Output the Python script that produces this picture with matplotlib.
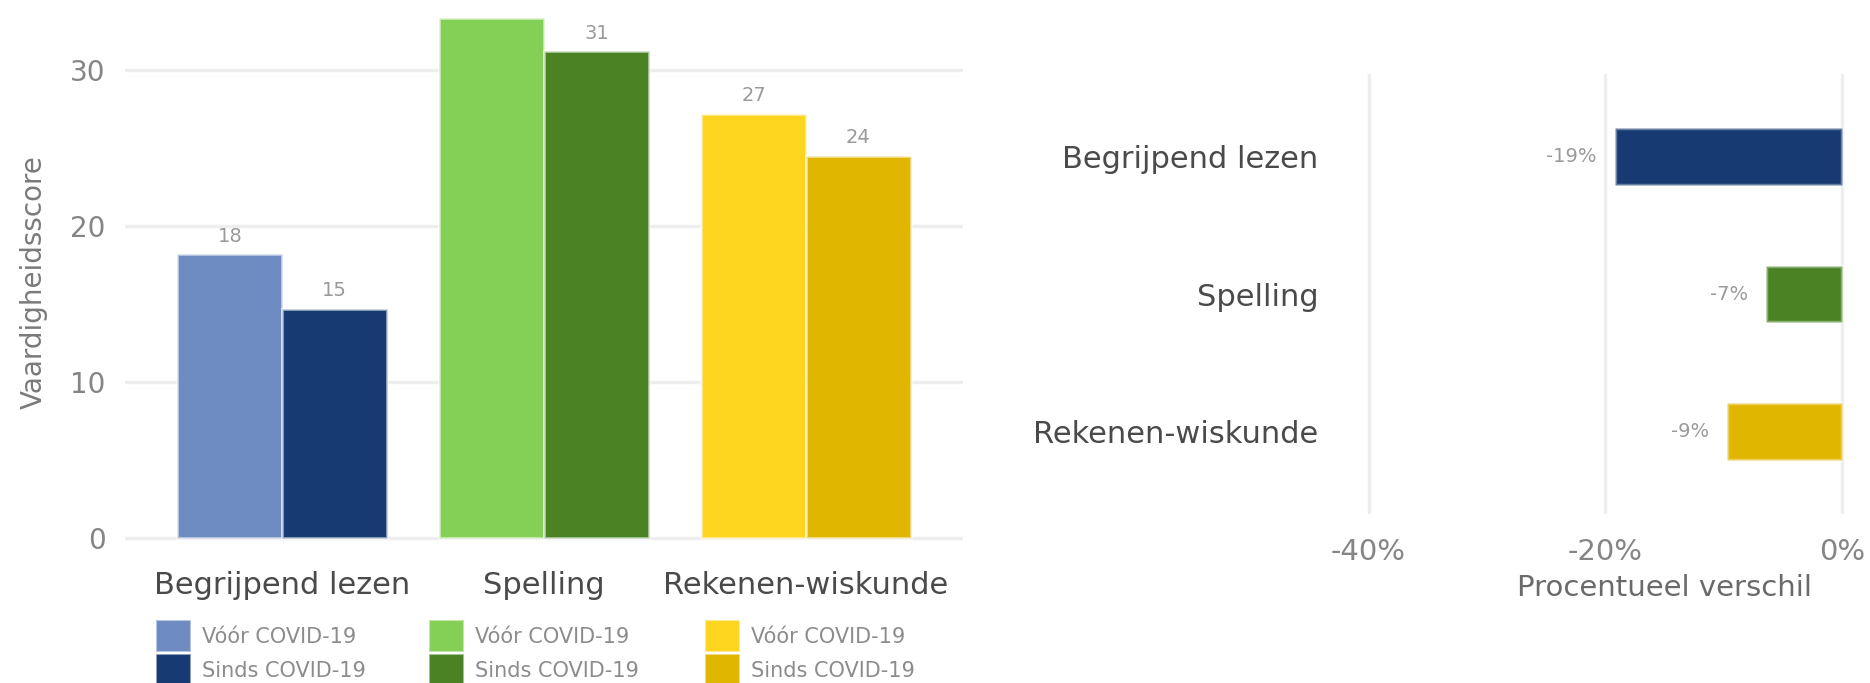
import matplotlib
matplotlib.use("Agg")
import matplotlib.pyplot as plt
from matplotlib.patches import Patch
import numpy as np

plt.rcParams['font.family'] = ['DejaVu Sans']

# ---- data ----
subjects = ["Begrijpend lezen", "Spelling", "Rekenen-wiskunde"]
periods = ["Vóór COVID-19", "Sinds COVID-19"]
score_before = [18.2, 33.3, 27.2]
score_since = [14.7, 31.2, 24.5]
# the label above the tallest bar lies outside the visible picture in the reference
label_before = ["18", "", "27"]
label_since = ["15", "31", "24"]
pct_diff = [-19.2, -6.4, -9.7]
pct_labels = ["-19%", "-7%", "-9%"]
score_ticks = [0, 10, 20, 30]
pct_ticks = [-40, -20, 0]
pct_ticklabels = ["-40%", "-20%", "0%"]

colors_before = ["#6e8cc2", "#84cf56", "#fdd51f"]
colors_since = ["#173a72", "#4a8224", "#e0b600"]

W, H = 1870, 683
fig = plt.figure(figsize=(W / 100, H / 100), dpi=100)

def fx(px):
    return px / W

def fy(py):
    return 1 - py / H

grid_col = "#eeeeee"
tick_col = "#858585"
lab_col = "#4a4a4a"
val_col = "#9a9a9a"

# ---- left panel ----
axL = fig.add_axes([fx(125), fy(565), fx(838), 565 / H])
x = np.arange(1, len(subjects) + 1)
bw = 0.4
for i in range(len(subjects)):
    axL.bar(x[i] - bw / 2, score_before[i], width=bw, color=colors_before[i],
            edgecolor=(1, 1, 1, 0.55), linewidth=2, zorder=2)
    axL.bar(x[i] + bw / 2, score_since[i], width=bw, color=colors_since[i],
            edgecolor=(1, 1, 1, 0.55), linewidth=2, zorder=2)
    axL.annotate(label_before[i], (x[i] - bw / 2, score_before[i]), xytext=(0, 6),
                 textcoords="offset points", ha="center", va="bottom",
                 fontsize=14, color=val_col, annotation_clip=False)
    axL.annotate(label_since[i], (x[i] + bw / 2, score_since[i]), xytext=(0, 6),
                 textcoords="offset points", ha="center", va="bottom",
                 fontsize=14, color=val_col, annotation_clip=False)

axL.set_xlim(0.4, 3.6)
axL.set_ylim(-1.7, 34.47)
axL.set_yticks(score_ticks)
axL.set_yticklabels([str(t) for t in score_ticks], fontsize=20, color=tick_col)
axL.set_xticks(x)
axL.set_xticklabels(subjects, fontsize=22, color=lab_col)
axL.tick_params(axis="both", length=0)
axL.tick_params(axis="y", pad=14)
axL.tick_params(axis="x", pad=4)
axL.grid(axis="y", color=grid_col, linewidth=2.5, zorder=0)
axL.set_axisbelow(True)
for s in axL.spines.values():
    s.set_visible(False)
axL.set_ylabel("Vaardigheidsscore", fontsize=20, color="#7a7a7a")
axL.yaxis.set_label_coords((48 - 125) / 838, 0.5)

# legend: three columns
col_x = [156, 429, 705]
for i in range(len(subjects)):
    handles = [Patch(facecolor=colors_before[i], edgecolor=(1, 1, 1, 0.5), linewidth=1.5),
               Patch(facecolor=colors_since[i], edgecolor=(1, 1, 1, 0.5), linewidth=1.5)]
    fig.legend(handles, periods, loc="upper left",
               bbox_to_anchor=(fx(col_x[i]), fy(620)), frameon=False,
               fontsize=15, labelcolor="#8c8c8c", handlelength=1.7, handleheight=2.0,
               handletextpad=0.5, labelspacing=0.08, borderpad=0, borderaxespad=0)

# ---- right panel ----
axR = fig.add_axes([fx(1339), fy(514), fx(651), 440 / H])
y = np.arange(1, len(subjects) + 1)
for i in range(len(subjects)):
    axR.barh(y[i], pct_diff[i], height=0.41, color=colors_since[i],
             edgecolor=(1, 1, 1, 0.35), linewidth=2.5, zorder=2)
    axR.annotate(pct_labels[i], (pct_diff[i], y[i]), xytext=(-13, 0),
                 textcoords="offset points", ha="right", va="center",
                 fontsize=14, color=val_col)
axR.set_ylim(3.6, 0.4)
axR.set_xlim(-42.5, 12.5)
axR.set_xticks(pct_ticks)
axR.set_xticklabels(pct_ticklabels, fontsize=21, color=tick_col)
axR.set_yticks(y)
axR.set_yticklabels(subjects, fontsize=22, color=lab_col)
axR.tick_params(axis="both", length=0)
axR.tick_params(axis="y", pad=15)
axR.tick_params(axis="x", pad=17)
axR.grid(axis="x", color=grid_col, linewidth=2.5, zorder=0)
axR.set_axisbelow(True)
for s in axR.spines.values():
    s.set_visible(False)
axR.set_xlabel("Procentueel verschil", fontsize=21, color="#6a6a6a", labelpad=6)

fig.savefig("out.png", dpi=100)
